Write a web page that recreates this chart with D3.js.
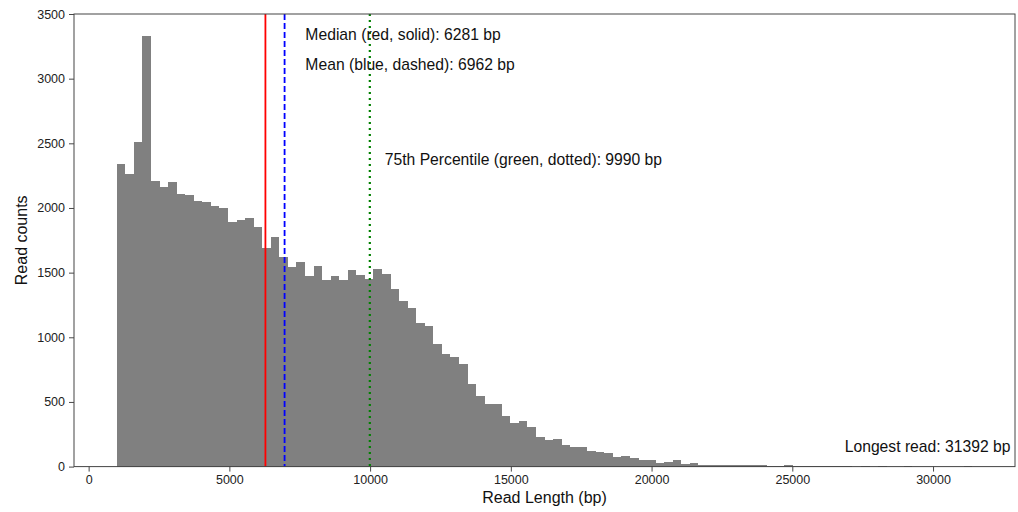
<!DOCTYPE html>
<html>
<head>
<meta charset="utf-8">
<script src="https://cdn.jsdelivr.net/npm/d3@7"></script>
<style>
  html, body { margin: 0; padding: 0; background: #fff; }
  svg { display: block; font-family: "Liberation Sans", Arial, "DejaVu Sans", sans-serif; }
</style>
</head>
<body>
<svg id="chart" width="1018" height="512"></svg>
<script>
// ---- data ----
const minRead = 1000;
const maxRead = 31392;
const binCount = 100;
const counts = [
  2340, 2264, 2510, 3330, 2209, 2160, 2199, 2109, 2101, 2054,
  2045, 2016, 1998, 1890, 1906, 1922, 1849, 1694, 1775, 1619,
  1547, 1582, 1472, 1555, 1446, 1472, 1446, 1519, 1480, 1449,
  1527, 1490, 1372, 1281, 1225, 1107, 1085, 947, 869, 848,
  792, 637, 547, 483, 483, 392, 335, 351, 305, 230,
  206, 212, 165, 150, 150, 121, 113, 103, 75, 85,
  64, 49, 49, 28, 39, 52, 18, 28, 15, 14,
  13, 12, 12, 16, 16, 11, 4, 8, 9, 7,
  6, 3, 2, 2, 1, 1, 0, 1, 0, 1,
  0, 0, 1, 0, 0, 0, 0, 0, 0, 1
];
const medianLen = 6281;
const meanLen = 6962;
const p75Len = 9990;
const xTicks = [0, 5000, 10000, 15000, 20000, 25000, 30000];
const yTicks = [0, 500, 1000, 1500, 2000, 2500, 3000, 3500];
const xLabel = "Read Length (bp)";
const yLabel = "Read counts";
const annotations = [
  { text: "Median (red, solid): " + medianLen + " bp", x: 7700, y: 3300, anchor: "start" },
  { text: "Mean (blue, dashed): " + meanLen + " bp", x: 7700, y: 3068, anchor: "start" },
  { text: "75th Percentile (green, dotted): " + p75Len + " bp", x: 10520, y: 2333, anchor: "start" },
  { text: "Longest read: " + maxRead + " bp", x: 32750, y: 116, anchor: "end" }
];

// ---- layout ----
const L = 74, R = 1015, T = 14, B = 466.6;
const svg = d3.select("#chart");
const span = maxRead - minRead;
const x = d3.scaleLinear().domain([minRead - 0.05 * span, maxRead + 0.05 * span]).range([L, R]);
const y = d3.scaleLinear().domain([0, 3500]).range([B, T]);
const binW = span / binCount;
const bins = counts.map((c, i) => ({ x0: minRead + i * binW, x1: minRead + (i + 1) * binW, c }));

// bars
svg.append("g").selectAll("rect").data(bins).join("rect")
  .attr("x", d => x(d.x0))
  .attr("width", d => x(d.x1) - x(d.x0))
  .attr("y", d => y(d.c))
  .attr("height", d => y(0) - y(d.c))
  .attr("fill", "#808080")
  .attr("shape-rendering", "crispEdges");

// vertical lines
const vlines = [
  { v: medianLen, color: "#ff0000", dash: null, w: 1.8 },
  { v: meanLen, color: "#0000ff", dash: "6,3", w: 1.8 },
  { v: p75Len, color: "#008000", dash: "2,4", w: 2.2 }
];
svg.append("g").selectAll("line").data(vlines).join("line")
  .attr("x1", d => x(d.v)).attr("x2", d => x(d.v))
  .attr("y1", T).attr("y2", B)
  .attr("stroke", d => d.color)
  .attr("stroke-width", d => d.w)
  .attr("stroke-dasharray", d => d.dash);

// axes
const xAxis = svg.append("g").attr("transform", `translate(0,${B})`)
  .call(d3.axisBottom(x).tickValues(xTicks).tickFormat(d3.format("d")).tickSize(5).tickPadding(4));
const yAxis = svg.append("g").attr("transform", `translate(${L},0)`)
  .call(d3.axisLeft(y).tickValues(yTicks).tickFormat(d3.format("d")).tickSize(5).tickPadding(4));
[xAxis, yAxis].forEach(g => {
  g.select(".domain").remove();
  g.selectAll(".tick line").attr("stroke", "#333").attr("stroke-width", 0.9);
  g.selectAll(".tick text").attr("fill", "#222").style("font-size", "12.5px")
    .style("font-family", "'Liberation Sans', Arial, sans-serif");
});

// frame
svg.append("rect").attr("x", L).attr("y", T).attr("width", R - L).attr("height", B - T)
  .attr("fill", "none").attr("stroke", "#444").attr("stroke-width", 1);

// axis labels
svg.append("text").attr("x", (L + R) / 2).attr("y", 503).attr("text-anchor", "middle")
  .style("font-size", "16px").attr("fill", "#111").text(xLabel);
svg.append("text").attr("transform", `translate(27,${(T + B) / 2}) rotate(-90)`).attr("text-anchor", "middle")
  .style("font-size", "16px").attr("fill", "#111").text(yLabel);

// annotations
svg.append("g").selectAll("text").data(annotations).join("text")
  .attr("x", d => x(d.x)).attr("y", d => y(d.y))
  .attr("text-anchor", d => d.anchor)
  .style("font-size", "15.7px").attr("fill", "#111")
  .text(d => d.text);
</script>
</body>
</html>
